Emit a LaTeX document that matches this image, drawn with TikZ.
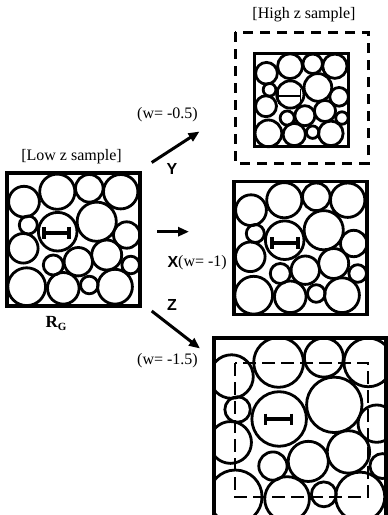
\documentclass[tikz,border=0pt]{standalone}
\usepackage{fontspec}
\setmainfont{Liberation Serif}
\newfontfamily\arialf{Liberation Sans}
\usetikzlibrary{arrows.meta}
\newcommand\myballs{%
  \foreach \bx/\by/\br in {-49.5/-37.8/15.4, -16.2/-47.8/17.6, 15.8/-51.2/13.8, 47.2/-47.8/17.2,
     -45.2/-14.5/9.0, -15.8/-7.8/19.3, 23.2/-17.8/19.6, 53.2/-4.5/13.2,
     -50.2/8.8/14.8, 33.2/15.5/15.0, 4.8/22.2/14.2, -20.2/25.5/10.0, 57.2/25.5/8.8,
     -46.8/47.2/18.9, -10.2/48.8/15.8, 15.8/45.5/8.8, 41.5/47.2/17.4}
  {\draw[ball] (\bx,\by) circle[radius=\br];}}
\newcommand\myruler[4]{%
  \begin{scope}[shift={#1}]
    \draw[line width=#4] (-#2,0) -- (#2,0) (-#2,-#3) -- (-#2,#3) (#2,-#3) -- (#2,#3);
  \end{scope}}
\begin{document}
\begin{tikzpicture}[x=1pt,y=-1pt,
  ball/.style={line width=2.8pt},
  frame/.style={line width=3.4pt},
  dashframe/.style={line width=3pt, dash pattern=on 10pt off 7pt},
  dashframeb/.style={line width=2.6pt, dash pattern=on 13pt off 6pt},
  arr/.style={line width=3pt,-{Triangle[length=11pt,width=9pt]}},
  lbl/.style={font=\fontsize{16}{18}\selectfont, inner sep=0pt},
  axislbl/.style={font=\arialf\bfseries\fontsize{16}{18}\selectfont, inner sep=0pt},
]
\useasboundingbox (0,0) rectangle (388,515);

% Low z sample
\begin{scope}[shift={(73.5,239.5)}]
  \myballs
\end{scope}
\draw[frame] (7,173) rectangle (140,306);
\myruler{(56,233)}{12.5}{6}{4pt}

% middle panel (X)
\begin{scope}[shift={(300.5,248)}]
  \myballs
\end{scope}
\draw[frame] (234,181.5) rectangle (367,314.5);
\myruler{(285,243)}{13}{6}{4pt}

% high z sample (Y)
\begin{scope}[shift={(301.5,100)}, scale=0.707]
  \myballs
\end{scope}
\draw[frame] (254.75,53.25) rectangle (348.25,146.75);
\draw[dashframe] (235,32) rectangle (368,163);
\myruler{(289.5,96)}{11}{7.5}{1.4pt}

% bottom panel (Z)
\begin{scope}
  \clip (214,338) rectangle (386,530);
  \begin{scope}[shift={(301.5,430)}, scale=1.414]
    \myballs
  \end{scope}
\end{scope}
\draw[frame] (214,338) rectangle (386,530);
\draw[dashframeb] (235,363) rectangle (368,497);
\myruler{(278.5,419)}{13}{5.5}{3.5pt}

% labels
\node[lbl] (lowlbl) at (71.5,157) {[Low z sample]};
\node[lbl] (highlbl) at (304,15) {[High z sample]};
\node[lbl] (w05) at (167.5,115) {(w= -0.5)};
\node[axislbl] (ylbl) at (172,169) {Y};
\node[axislbl] (xlbl) at (173,262) {X};
\node[lbl, anchor=west] (w1) at (178,263) {(w= -1)};
\node[axislbl] (zlbl) at (172,305) {Z};
\node[lbl] (w15) at (167.5,361) {(w= -1.5)};
\node[font=\bfseries\fontsize{17}{20}\selectfont, inner sep=0pt] (rg) at (56,323)
  {R\raisebox{-3pt}{\fontsize{11}{12}\selectfont G}};

% arrows
\coordinate (ys) at (151.7,162.5);
\coordinate (ye) at (199.5,131.5);
\coordinate (xs) at (157,231.7);
\coordinate (xe) at (189,231.7);
\coordinate (zs) at (151.7,311);
\coordinate (ze) at (200,348.5);
\draw[arr] (ys) -- (ye);
\draw[arr] (xs) -- (xe);
\draw[arr] (zs) -- (ze);
\end{tikzpicture}
\end{document}
